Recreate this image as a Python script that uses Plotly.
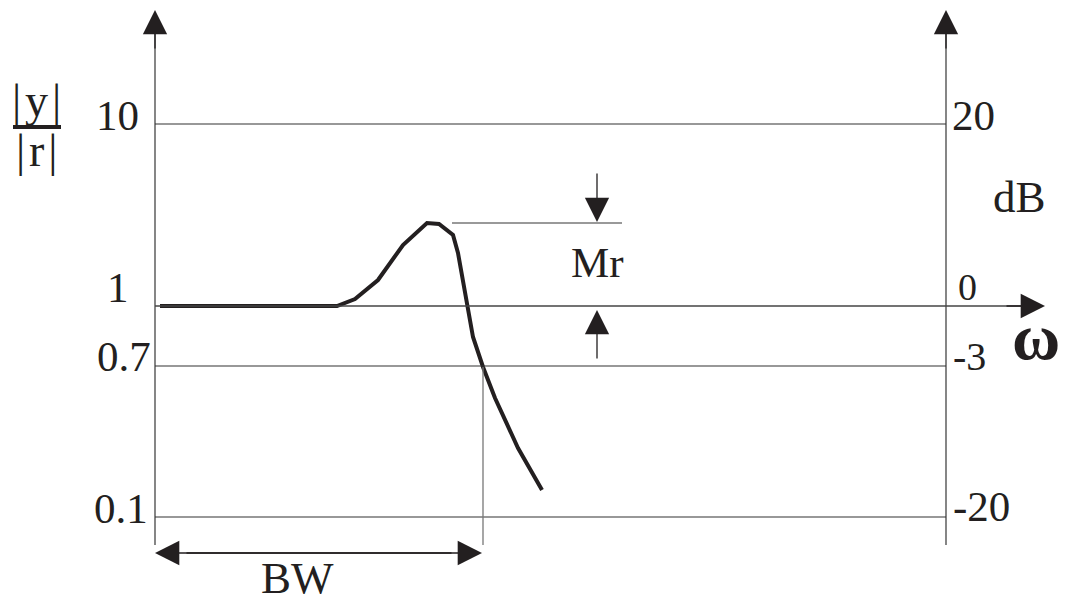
import plotly.graph_objects as go

# ---- data (schematic coordinates: x to the right, y downward like the drawing) ----
curve_x = [160, 337, 355, 378, 403, 427, 439, 453, 458, 467, 473, 483, 495, 518, 542]
curve_y = [306, 306, 299, 280, 245, 223, 224, 235, 253, 306, 337, 367, 398, 448, 490]

level_pos = [124, 306, 366, 517]          # 10 / 20dB, 1 / 0dB, 0.7 / -3dB, 0.1 / -20dB
left_labels = ["10", "1", "0.7", "0.1"]
right_labels = ["20", "0", "-3", "-20"]

x_left_axis, x_right_axis = 155, 946
axis_top, axis_bottom = 10, 545
omega_tip = 1045
peak_y = 223
bw_x = 483
bw_arrow_y = 553
mr_x = 597

FONT = "Liberation Serif"
INK = "#231f20"

fig = go.Figure()
fig.add_trace(go.Scatter(x=curve_x, y=curve_y, mode="lines",
                         line=dict(color=INK, width=4), hoverinfo="skip"))

shapes = []
def seg(x0, y0, x1, y1, color="#231f20", width=1.3):
    shapes.append(dict(type="line", xref="x", yref="y", x0=x0, y0=y0, x1=x1, y1=y1,
                       line=dict(color=color, width=width)))

# vertical axes
seg(x_left_axis, axis_top + 15, x_left_axis, axis_bottom, color="#444")
seg(x_right_axis, axis_top + 15, x_right_axis, axis_bottom, color="#444")
# grid levels
for i, p in enumerate(level_pos):
    if p == 306:
        seg(x_left_axis, p, omega_tip - 15, p, color="#444")
    else:
        seg(x_left_axis, p, x_right_axis, p, color="#333", width=1.1)
# peak line and bandwidth line
seg(452, peak_y, 622, peak_y, color="#777", width=1.3)
seg(bw_x, 367, bw_x, axis_bottom, color="#777", width=1.3)

annotations = []
def arrow(x, y, ax, ay, width=1.3, color="#231f20"):
    annotations.append(dict(x=x, y=y, ax=ax, ay=ay, xref="x", yref="y", axref="x", ayref="y",
                            text="", showarrow=True, arrowhead=2, arrowsize=3.6 / width * 1.35,
                            arrowwidth=width, arrowcolor=color, standoff=0))

arrow(x_left_axis, axis_top, x_left_axis, axis_top + 40)
arrow(x_right_axis, axis_top, x_right_axis, axis_top + 40)
arrow(omega_tip, 306, omega_tip - 40, 306)
arrow(mr_x, peak_y - 1, mr_x, 172)
arrow(mr_x, 310, mr_x, 360)
arrow(x_left_axis, bw_arrow_y, bw_x - 30, bw_arrow_y)
arrow(bw_x - 1, bw_arrow_y, x_left_axis + 30, bw_arrow_y)

def txt(x, y, s, size, xanchor="center", bold=False):
    annotations.append(dict(x=x, y=y, xref="x", yref="y", text=("<b>%s</b>" % s) if bold else s,
                            showarrow=False, xanchor=xanchor, yanchor="middle",
                            font=dict(family=FONT, size=size, color=INK)))

left_y = [115, 287, 356, 508]
left_x = [141, 131, 153, 150]
for lab, yy, xx in zip(left_labels, left_y, left_x):
    txt(xx, yy, lab, 43, xanchor="right")
right_y = [115, 287, 356, 506]
right_x = [950, 956, 951, 951]
right_sz = [43, 38, 40, 43]
for lab, yy, xx, sz in zip(right_labels, right_y, right_x, right_sz):
    txt(xx, yy, lab, sz, xanchor="left")

txt(36, 100, "|\u200ay\u200a|", 46)
txt(36, 150, "|\u200ar\u200a|", 46)
shapes.append(dict(type="line", xref="x", yref="y", x0=13, y0=127, x1=61, y1=127,
                   line=dict(color=INK, width=4)))
txt(991, 197, "dB", 45, xanchor="left")
txt(1036, 336, "ω", 66, bold=True)
txt(597, 262, "Mr", 43)
txt(297, 578, "BW", 45)

fig.update_layout(
    width=1065, height=604, margin=dict(l=0, r=0, t=0, b=0),
    paper_bgcolor="white", plot_bgcolor="white", showlegend=False,
    xaxis=dict(range=[0, 1065], visible=False, fixedrange=True),
    yaxis=dict(range=[604, 0], visible=False, fixedrange=True),
    shapes=shapes, annotations=annotations,
)
fig.write_html("out.html", config={"displayModeBar": False},
               post_script="document.body.style.margin='0';")
